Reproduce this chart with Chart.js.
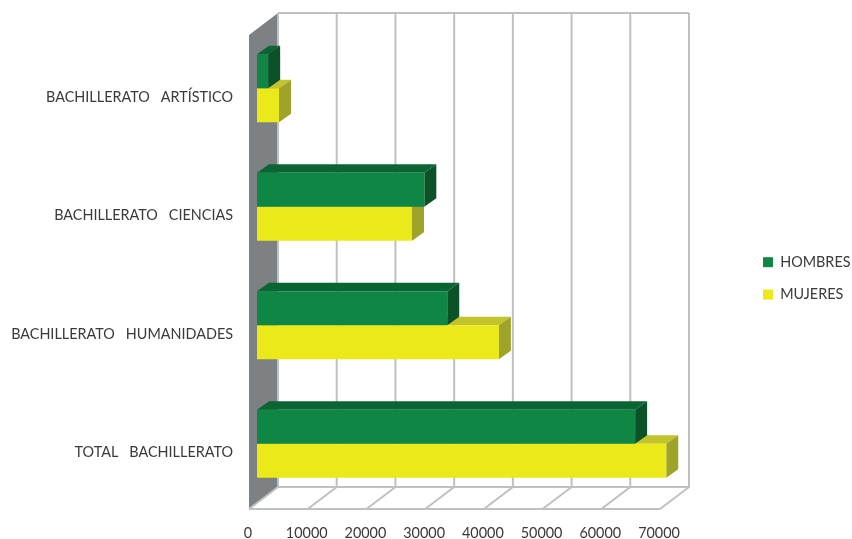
<!DOCTYPE html>
<html>
<head>
<meta charset="utf-8">
<title>Bachillerato</title>
<script src="https://cdn.jsdelivr.net/npm/chart.js@4/dist/chart.umd.js"></script>
<style>
  html, body { margin: 0; padding: 0; background: #fff; }
  canvas { display: block; }
</style>
</head>
<body>
<canvas id="chart" width="852" height="539"></canvas>
<script>
const categories = [
  "BACHILLERATO   ARTÍSTICO",
  "BACHILLERATO   CIENCIAS",
  "BACHILLERATO   HUMANIDADES",
  "TOTAL   BACHILLERATO"
];
const hombres = [1900, 28500, 32400, 64400];
const mujeres = [3750, 26400, 41200, 69700];
const xMax = 70000;
const xStep = 10000;

const FONT = "Lato, 'Open Sans', sans-serif";
const TEXT = "#3a3a3a";
const GRID = "#bfc1c1";
const WALL = "#7d8183";

// profundidad del suelo/pared y de las barras
const BACK = { x: 29, y: -22 };
const BAR_SHIFT = { x: 8, y: -6 };
const BAR_DEPTH = { x: 12, y: -8.5 };

function poly(ctx, pts, fill) {
  ctx.beginPath();
  pts.forEach((p, i) => i ? ctx.lineTo(p[0], p[1]) : ctx.moveTo(p[0], p[1]));
  ctx.closePath();
  ctx.fillStyle = fill;
  ctx.fill();
}

/* ---------- Caja 3D: pared, suelo y rejilla ---------- */
const box3d = {
  id: "box3d",
  afterLayout(chart) {
    // la leyenda va fuera del area del grafico
    const lg = chart.legend;
    lg.left = 745;
    lg.right = 852;
    lg.top = 237;
    lg.bottom = 539;
  },
  beforeDatasetsDraw(chart) {
    const { ctx, chartArea: a, scales: { x } } = chart;
    const bx = a.left + BACK.x, tY = a.top + BACK.y, bY = a.bottom + BACK.y;
    poly(ctx, [[a.left, a.top], [bx, tY], [bx, bY], [a.left, a.bottom]], WALL);

    ctx.save();
    ctx.strokeStyle = GRID;
    ctx.lineWidth = 2;
    for (let v = 0; v <= xMax; v += xStep) {
      const px = x.getPixelForValue(v);
      ctx.beginPath();
      ctx.moveTo(px, a.bottom);
      ctx.lineTo(px + BACK.x, bY);
      ctx.lineTo(px + BACK.x, tY);
      ctx.stroke();
    }
    ctx.beginPath();
    ctx.moveTo(bx, tY);
    ctx.lineTo(a.right + BACK.x, tY);
    ctx.moveTo(bx, bY);
    ctx.lineTo(a.right + BACK.x, bY);
    ctx.moveTo(a.left, a.bottom);
    ctx.lineTo(a.right, a.bottom);
    ctx.stroke();
    ctx.restore();
  },
  beforeDatasetDraw(chart, args) {
    const ds = chart.data.datasets[args.index];
    const ctx = chart.ctx;
    ctx.save();
    ctx.translate(BAR_SHIFT.x, BAR_SHIFT.y);
    args.meta.data.forEach(bar => {
      const t = bar.y - bar.height / 2, b = bar.y + bar.height / 2;
      const dx = BAR_DEPTH.x, dy = BAR_DEPTH.y;
      poly(ctx, [[bar.base, t], [bar.base + dx, t + dy], [bar.x + dx, t + dy], [bar.x, t]], ds.topColor);
      poly(ctx, [[bar.x, t], [bar.x + dx, t + dy], [bar.x + dx, b + dy], [bar.x, b]], ds.sideColor);
    });
  },
  afterDatasetDraw(chart) {
    chart.ctx.restore();
  }
};

new Chart(document.getElementById("chart"), {
  type: "bar",
  data: {
    labels: categories,
    datasets: [
      { label: "HOMBRES", data: hombres, backgroundColor: "#108645", topColor: "#0b6533", sideColor: "#0c5229", clip: false },
      { label: "MUJERES", data: mujeres, backgroundColor: "#ece91b", topColor: "#c3c42c", sideColor: "#a0a32a", clip: false }
    ]
  },
  options: {
    indexAxis: "y",
    responsive: false,
    animation: false,
    layout: { padding: { top: 35, right: 192, bottom: 0, left: 0 } },
    datasets: { bar: { categoryPercentage: 0.574, barPercentage: 1 } },
    plugins: {
      tooltip: { enabled: false },
      legend: {
        position: "chartArea",
        align: "start",
        labels: {
          boxWidth: 10,
          boxHeight: 10,
          padding: 18,
          color: TEXT,
          font: { family: FONT, size: 14.4 }
        }
      }
    },
    scales: {
      x: {
        min: 0,
        max: xMax,
        grid: { display: false },
        border: { display: false },
        afterFit: s => { s.height = 30; },
        ticks: {
          stepSize: xStep,
          autoSkip: false,
          maxRotation: 0,
          padding: 8,
          labelOffset: -1,
          color: TEXT,
          font: { family: FONT, size: 14.4 },
          callback: v => String(v)
        }
      },
      y: {
        grid: { display: false },
        border: { display: false },
        afterFit: s => { s.width = 249; },
        ticks: {
          padding: 8,
          labelOffset: 3,
          color: TEXT,
          font: { family: FONT, size: 14.4 }
        }
      }
    }
  },
  plugins: [box3d]
});
</script>
</body>
</html>
